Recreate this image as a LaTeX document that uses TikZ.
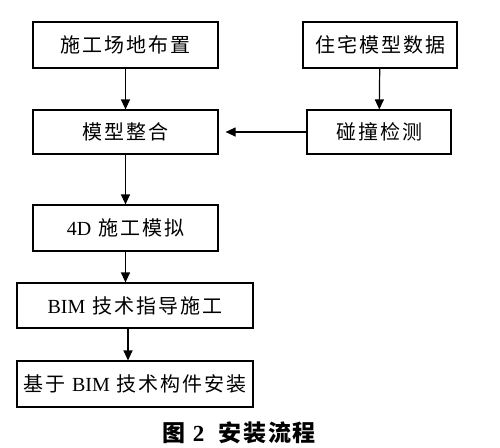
\documentclass[tikz,border=0pt]{standalone}
\usepackage{fontspec}
\setmainfont{Liberation Serif}
\newfontfamily\cjk[LetterSpace=10]{Noto Sans CJK SC}
\newfontfamily\cjkcap[LetterSpace=8]{Noto Sans CJK SC}
\usetikzlibrary{arrows.meta}
\newcommand{\zh}[1]{{\cjk #1}}
\newcommand{\gap}{\hspace{7pt}}
\begin{document}
\begin{tikzpicture}[x=1pt,y=-1pt,
  boxnode/.style={draw, line width=1.2pt, rectangle, inner sep=0pt, font=\fontsize{20}{22}\selectfont},
  flowarrow/.style={line width=1.2pt, -{Triangle[length=10pt,width=9pt]}}]
\useasboundingbox[fill=white] (0,0) rectangle (500,447);
\node[boxnode, minimum width=185pt, minimum height=46pt] (b1) at (125.5,45) {\zh{施工场地布置}};
\node[boxnode, minimum width=154pt, minimum height=46pt] (b2) at (380,45) {\zh{住宅模型数据}};
\node[boxnode, minimum width=185pt, minimum height=44pt] (b3) at (125.5,132) {\zh{模型整合}};
\node[boxnode, minimum width=144pt, minimum height=44pt] (b4) at (379,132) {\zh{碰撞检测}};
\node[boxnode, minimum width=185pt, minimum height=46pt] (b5) at (125.5,228) {4D\gap\zh{施工模拟}};
\node[boxnode, minimum width=236pt, minimum height=45pt] (b6) at (135,305.5) {BIM\gap\zh{技术指导施工}};
\node[boxnode, minimum width=236pt, minimum height=46pt] (b7) at (135,384) {\zh{基于}\gap BIM\gap\zh{技术构件安装}};
\node[inner sep=0pt, font=\fontsize{23}{26}\selectfont\bfseries] (cap) at (239,433) {{\cjkcap\bfseries 图}\hspace{6pt}\textbf{2}\hspace{14pt}{\cjkcap\bfseries 安装流程}};
\draw[flowarrow] (b1) -- (b3);
\draw[flowarrow] (b2) -- (b4);
\draw[flowarrow, shorten >=7pt] (b4) -- (b3);
\draw[flowarrow] (b3) -- (b5);
\draw[flowarrow] (b5) -- (b6.north -| b5.south);
\coordinate (a6) at ([xshift=-7pt]b6.south);
\draw[flowarrow] (a6) -- (a6 |- b7.north);
\end{tikzpicture}
\end{document}
